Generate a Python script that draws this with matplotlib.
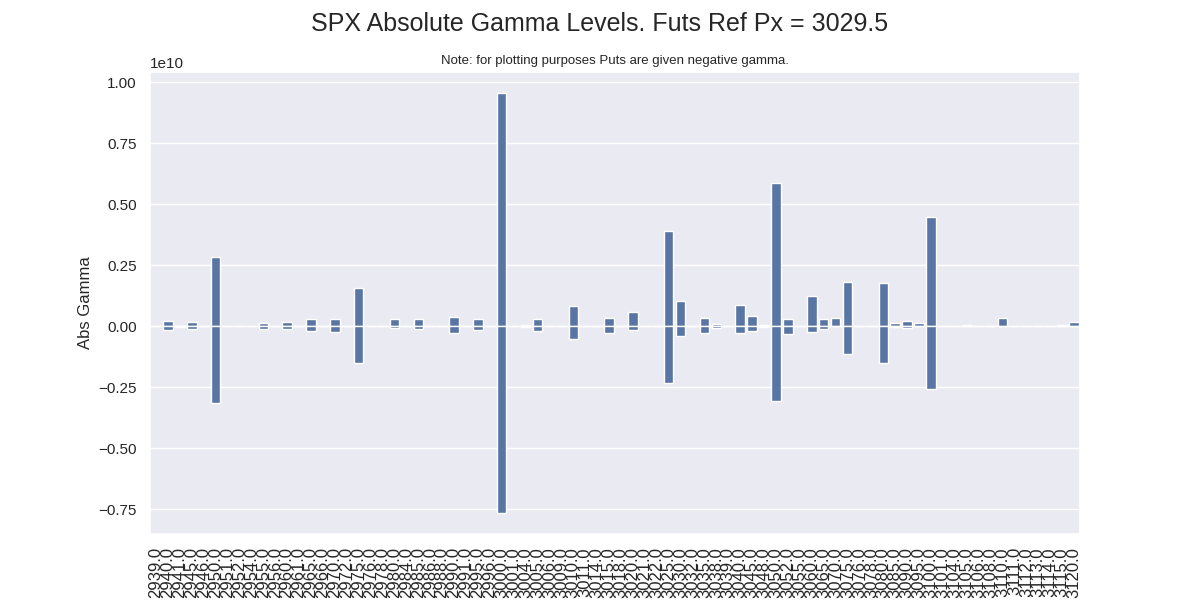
import pandas as pd
import matplotlib.pyplot as plt
import seaborn as sns

# strikes shown on the x axis (categorical)
strikes = [
    2939, 2940, 2941, 2945, 2946, 2950, 2951, 2952, 2954, 2955,
    2956, 2960, 2961, 2965, 2966, 2970, 2972, 2975, 2976, 2978,
    2980, 2984, 2985, 2986, 2988, 2990, 2991, 2995, 2996, 3000,
    3001, 3004, 3005, 3006, 3009, 3010, 3011, 3014, 3015, 3018,
    3020, 3021, 3022, 3025, 3030, 3032, 3035, 3038, 3039, 3040,
    3045, 3048, 3050, 3052, 3055, 3060, 3065, 3070, 3075, 3076,
    3078, 3080, 3085, 3090, 3095, 3100, 3101, 3104, 3105, 3106,
    3108, 3110, 3111, 3112, 3113, 3114, 3115, 3120,
]

# call gamma (positive), units of 1e8
call_gamma_e8 = [
    0.0, 2.0, 0.2, 1.6, 0.0, 28.4, 0.0, 0.0, 0.0, 1.35,
    0.0, 1.8, 0.0, 3.0, 0.0, 3.0, 0.0, 15.7, 0.0, 0.0,
    3.0, 0.0, 3.0, 0.0, 0.0, 3.8, 0.0, 3.0, 0.0, 95.5,
    0.0, 0.3, 3.0, 0.0, 0.0, 8.3, 0.0, 0.0, 3.4, 0.0,
    5.9, 0.1, 0.0, 39.0, 10.4, 0.0, 3.3, 0.9, 0.0, 8.6,
    4.1, 0.3, 58.6, 2.8, 0.0, 12.3, 2.7, 3.5, 17.9, 0.0,
    0.0, 17.6, 1.4, 2.2, 1.4, 44.6, 0.0, 0.0, 0.4, 0.0,
    0.0, 3.3, 0.0, 0.0, 0.0, 0.0, 0.4, 1.5,
]

# put gamma (plotted negative), units of 1e8
put_gamma_e8 = [
    0.0, 1.6, 0.2, 1.1, 0.0, 31.6, 0.0, 0.0, 0.0, 1.1,
    0.0, 1.2, 0.0, 2.1, 0.0, 2.5, 0.0, 15.0, 0.0, 0.0,
    0.8, 0.0, 1.2, 0.0, 0.0, 2.7, 0.0, 1.6, 0.0, 76.6,
    0.0, 0.3, 2.0, 0.0, 0.0, 5.3, 0.0, 0.0, 2.9, 0.0,
    1.6, 0.1, 0.0, 23.2, 4.1, 0.0, 2.9, 0.8, 0.0, 2.7,
    1.9, 0.3, 30.6, 3.2, 0.0, 2.5, 1.3, 0.1, 11.6, 0.0,
    0.0, 15.2, 0.2, 0.6, 0.0, 25.6, 0.0, 0.0, 0.0, 0.0,
    0.0, 0.0, 0.0, 0.0, 0.0, 0.0, 0.0, 0.0,
]

sns.set_theme(style="darkgrid")
plt.rcParams["font.family"] = ["Liberation Sans", "DejaVu Sans"]

df = pd.DataFrame({
    "strike": [f"{s:.1f}" for s in strikes],
    "call": [v * 1e8 for v in call_gamma_e8],
    "put": [-v * 1e8 for v in put_gamma_e8],
})

fig, ax = plt.subplots(figsize=(12, 6), dpi=100)
sns.barplot(data=df, x="strike", y="call", color="#4c72b0", ax=ax)
sns.barplot(data=df, x="strike", y="put", color="#4c72b0", ax=ax)

fig.suptitle("SPX Absolute Gamma Levels. Futs Ref Px = 3029.5", fontsize=18)
ax.set_title("Note: for plotting purposes Puts are given negative gamma.", fontsize=9.5)
ax.set_ylabel("Abs Gamma")
ax.set_xlabel("")
ax.tick_params(axis="x", labelrotation=90, labelsize=12)

fig.savefig("out.png")
